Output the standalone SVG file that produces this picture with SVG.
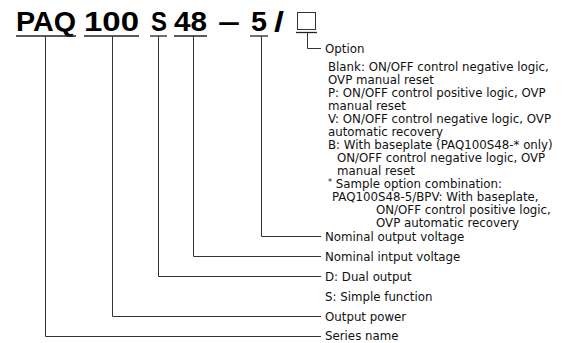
<svg xmlns="http://www.w3.org/2000/svg" width="568" height="343" viewBox="0 0 568 343">
<style>
.t{font-family:"Liberation Sans",Arial,sans-serif;font-weight:bold;font-size:27px;fill:#000}
.l{font-family:"DejaVu Sans","Noto Sans",sans-serif;font-size:11.8px;fill:#111}
.c{fill:none;stroke:#333;stroke-width:1}
.u{fill:none;stroke:#222;stroke-width:1.3}
</style>
<rect width="568" height="343" fill="#fff"/>
<g id="code">
<text class="t" x="16" y="31" textLength="60" lengthAdjust="spacingAndGlyphs">PAQ</text>
<text class="t" x="84" y="31" textLength="55" lengthAdjust="spacingAndGlyphs">100</text>
<text class="t" x="151" y="31" textLength="16" lengthAdjust="spacingAndGlyphs">S</text>
<text class="t" x="174" y="31" textLength="33" lengthAdjust="spacingAndGlyphs">48</text>
<text class="t" x="218" y="31" textLength="22" lengthAdjust="spacingAndGlyphs">–</text>
<text class="t" x="251" y="31" textLength="16" lengthAdjust="spacingAndGlyphs">5</text>
<text class="t" x="274" y="31" textLength="10" lengthAdjust="spacingAndGlyphs">/</text>
<rect x="297.5" y="12.5" width="18" height="17" fill="none" stroke="#333" stroke-width="1"/>
</g>
<g id="underlines">
<line class="u" x1="16" y1="36" x2="76" y2="36"/>
<line class="u" x1="84" y1="36" x2="139" y2="36"/>
<line class="u" x1="150" y1="36" x2="167" y2="36"/>
<line class="u" x1="174" y1="36" x2="207" y2="36"/>
<line class="u" x1="250" y1="36" x2="268" y2="36"/>
<line class="u" x1="296" y1="32.5" x2="317" y2="32.5"/>
</g>
<g id="connectors">
<polyline class="c" points="307.5,32.5 307.5,48.5 321,48.5"/>
<polyline class="c" points="261.5,36 261.5,236.5 321,236.5"/>
<polyline class="c" points="193.5,36 193.5,256.5 321,256.5"/>
<polyline class="c" points="158.5,36 158.5,276.5 321,276.5"/>
<polyline class="c" points="112.5,36 112.5,316.5 321,316.5"/>
<polyline class="c" points="45.5,36 45.5,336.5 321,336.5"/>
</g>
<g id="option">
<text class="l" x="325" y="53">Option</text>
<text class="l" x="328" y="71">Blank: ON/OFF control negative logic,</text>
<text class="l" x="328" y="84">OVP manual reset</text>
<text class="l" x="328" y="97">P: ON/OFF control positive logic, OVP</text>
<text class="l" x="328" y="110">manual reset</text>
<text class="l" x="328" y="123">V: ON/OFF control negative logic, OVP</text>
<text class="l" x="328" y="136">automatic recovery</text>
<text class="l" x="328" y="149">B: With baseplate (PAQ100S48-* only)</text>
<text class="l" x="337" y="162">ON/OFF control negative logic, OVP</text>
<text class="l" x="337" y="175">manual reset</text>
<text class="l" x="328" y="188"><tspan font-size="8" dy="-3">*</tspan><tspan dy="3"> Sample option combination:</tspan></text>
<text class="l" x="332" y="201">PAQ100S48-5/BPV: With baseplate,</text>
<text class="l" x="376" y="214">ON/OFF control positive logic,</text>
<text class="l" x="376" y="227">OVP automatic recovery</text>
</g>
<g id="label-output-voltage"><text class="l" x="325" y="240.5">Nominal output voltage</text></g>
<g id="label-input-voltage"><text class="l" x="325" y="260.5">Nominal intput voltage</text></g>
<g id="label-dual"><text class="l" x="325" y="280.5">D: Dual output</text></g>
<g id="label-simple"><text class="l" x="325" y="300.5">S: Simple function</text></g>
<g id="label-output-power"><text class="l" x="325" y="320.5">Output power</text></g>
<g id="label-series"><text class="l" x="325" y="340">Series name</text></g>
</svg>
